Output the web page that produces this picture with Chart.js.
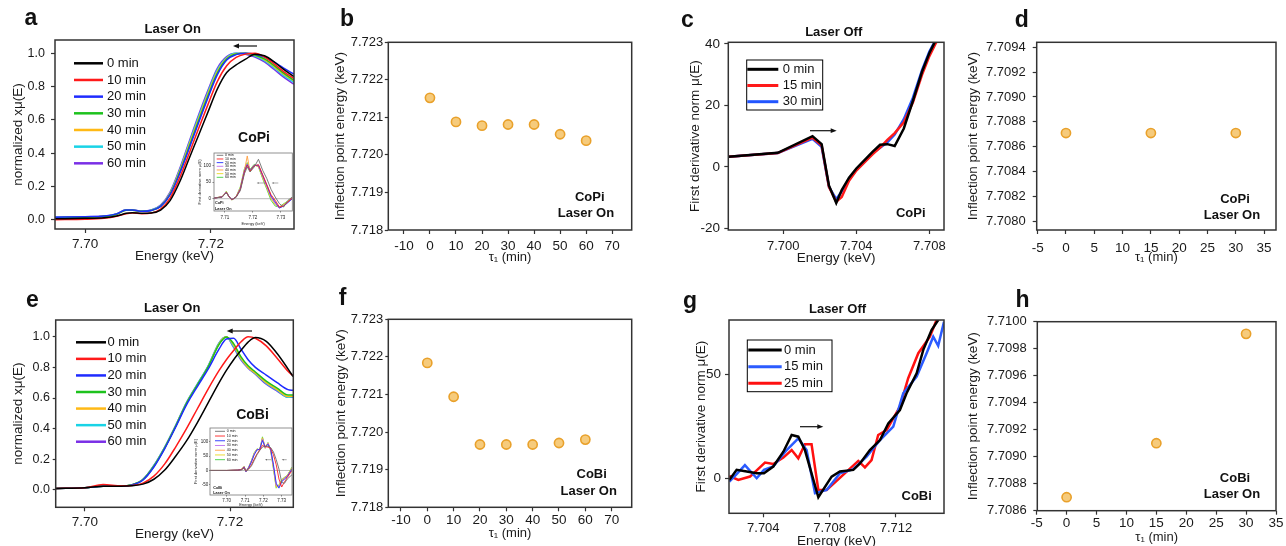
<!DOCTYPE html>
<html>
<head>
<meta charset="utf-8">
<script src="https://cdn.jsdelivr.net/npm/chart.js@4.4.1/dist/chart.umd.min.js"></script>
<style>
  html, body { margin: 0; padding: 0; background: #fff; }
  body { width: 1286px; height: 546px; position: relative; overflow: hidden; }
  canvas { position: absolute; }
</style>
</head>
<body>
<canvas id="chartA" width="320" height="273" style="left:0;top:0"></canvas>
<canvas id="chartB" width="320" height="273" style="left:320px;top:0"></canvas>
<canvas id="chartC" width="320" height="273" style="left:640px;top:0"></canvas>
<canvas id="chartD" width="326" height="273" style="left:960px;top:0"></canvas>
<canvas id="chartE" width="320" height="280" style="left:0;top:273px"></canvas>
<canvas id="chartF" width="320" height="280" style="left:320px;top:273px"></canvas>
<canvas id="chartG" width="320" height="280" style="left:640px;top:273px"></canvas>
<canvas id="chartH" width="326" height="280" style="left:960px;top:273px"></canvas>
<canvas id="insetA" width="98" height="80" style="left:196px;top:148px"></canvas>
<canvas id="insetE" width="108" height="86" style="left:186px;top:422px"></canvas>
<script>
const FONT = '"Liberation Sans", Arial, sans-serif';
Chart.defaults.font.family = FONT;
Chart.defaults.color = '#1a1a1a';

// ---------- data ----------
const TIME_LABELS = ['0 min', '10 min', '20 min', '30 min', '40 min', '50 min', '60 min'];
const TIME_COLORS = ['#000000', '#ff1a1a', '#1e2bff', '#1dc21d', '#ffb915', '#19d3e6', '#7a2fe6'];
const INSET_COLORS = ['#6e6e6e', '#ff2020', '#2030ff', '#c070f0', '#ff9e40', '#e8d820', '#40d040'];

// a: CoPi normalized XANES, laser on
const A_ENERGY = [7.6952, 7.7000, 7.7030, 7.7050, 7.7065, 7.7075, 7.7090, 7.7105, 7.7120, 7.7135, 7.7150, 7.7165,
  7.7180, 7.7195, 7.7210, 7.7225, 7.7240, 7.7255, 7.7270, 7.7285, 7.7300, 7.7315, 7.7332];
const A_0MIN = [0.005, 0.008, 0.012, 0.022, 0.038, 0.042, 0.038, 0.040, 0.058, 0.115, 0.225, 0.365, 0.505, 0.645, 0.785, 0.885, 0.930, 0.965, 0.995, 0.985, 0.950, 0.905, 0.860];
const A_10MIN = [0.000, 0.002, 0.008, 0.020, 0.036, 0.040, 0.036, 0.040, 0.064, 0.130, 0.250, 0.395, 0.545, 0.690, 0.830, 0.925, 0.975, 0.995, 1.000, 0.978, 0.938, 0.892, 0.848];
const A_20MIN = [0.015, 0.018, 0.022, 0.035, 0.058, 0.058, 0.050, 0.055, 0.080, 0.150, 0.275, 0.425, 0.580, 0.730, 0.870, 0.960, 0.992, 1.000, 0.995, 0.978, 0.948, 0.912, 0.875];
const A_30MIN = [0.012, 0.015, 0.020, 0.033, 0.056, 0.057, 0.050, 0.055, 0.080, 0.152, 0.282, 0.435, 0.592, 0.742, 0.880, 0.965, 0.996, 1.000, 0.990, 0.966, 0.928, 0.882, 0.838];
const A_40MIN = [0.012, 0.015, 0.020, 0.033, 0.057, 0.057, 0.050, 0.056, 0.082, 0.156, 0.290, 0.447, 0.604, 0.754, 0.890, 0.970, 0.998, 1.000, 0.988, 0.962, 0.922, 0.877, 0.834];
const A_50MIN = [0.014, 0.016, 0.021, 0.034, 0.058, 0.058, 0.051, 0.057, 0.085, 0.160, 0.296, 0.456, 0.615, 0.765, 0.900, 0.975, 1.000, 0.998, 0.984, 0.956, 0.914, 0.868, 0.826];
const A_60MIN = [0.015, 0.017, 0.022, 0.035, 0.060, 0.060, 0.052, 0.058, 0.088, 0.166, 0.304, 0.466, 0.626, 0.776, 0.910, 0.980, 1.000, 0.995, 0.978, 0.948, 0.904, 0.858, 0.814];
const A_XTICKS = [7.70, 7.72];
const A_YTICKS = [0, 0.2, 0.4, 0.6, 0.8, 1.0];

// a inset: first derivative
const IA_ENERGY = [7.7062, 7.7090, 7.7105, 7.7115, 7.7125, 7.7140, 7.7155, 7.7170, 7.7180, 7.7190, 7.7205, 7.7220, 7.7235, 7.7250, 7.7265, 7.7280, 7.7295, 7.7310, 7.7325, 7.7341];
const IA_0MIN = [2, 5, 18, 6, -2, 4, 24, 75, 95, 80, 95, 118, 85, 60, 28, 5, -15, -25, -5, 5];
const IA_10MIN = [2, 5, 19, 6, -3, 5, 27, 80, 100, 83, 98, 102, 72, 42, 12, -5, -25, -22, -10, 2];
const IA_20MIN = [2, 5, 19, 6, -3, 5, 28, 82, 102, 84, 100, 100, 70, 40, 8, -10, -28, -22, -12, 0];
const IA_30MIN = [2, 6, 20, 6, -3, 5, 30, 84, 104, 85, 100, 98, 68, 37, 5, -14, -28, -20, -10, 2];
const IA_40MIN = [2, 6, 20, 6, -3, 5, 30, 85, 128, 80, 100, 98, 66, 35, 3, -15, -27, -18, -10, 2];
const IA_50MIN = [2, 6, 21, 5, -4, 6, 33, 88, 105, 86, 101, 96, 63, 32, 0, -18, -26, -17, -8, 3];
const IA_60MIN = [2, 6, 22, 5, -4, 6, 35, 90, 108, 88, 103, 95, 60, 28, -5, -22, -25, -15, -8, 4];

// b: CoPi inflection point, laser on
const B_TIME = [0, 10, 20, 30, 40, 50, 60];
const B_ENERGY = [7.72152, 7.72088, 7.72078, 7.72081, 7.72081, 7.72055, 7.72038];
const B_XTICKS = [-10, 0, 10, 20, 30, 40, 50, 60, 70];
const B_YTICKS = [7.718, 7.719, 7.720, 7.721, 7.722, 7.723];

// c: CoPi first derivative, laser off
const C_LABELS = ['0 min', '15 min', '30 min'];
const C_ENERGY = [7.6970, 7.6997, 7.7016, 7.7021, 7.7025, 7.7029, 7.7032, 7.7036, 7.7040, 7.7045, 7.7049, 7.7053,
  7.7057, 7.7061, 7.7066, 7.7071, 7.7076, 7.7080, 7.7085];
const C_0MIN = [3.3, 4.6, 10.0, 7.4, -6.0, -11.7, -7.5, -3.5, -0.5, 2.5, 5.0, 7.2, 7.4, 6.8, 12.5, 21.5, 31, 37, 43];
const C_15MIN = [3.3, 4.5, 9.5, 7.0, -6.5, -11.3, -9.8, -4.5, -1.2, 1.8, 4.2, 6.3, 8.8, 11.0, 14.5, 21.0, 30, 36, 42];
const C_30MIN = [3.3, 4.5, 9.1, 6.5, -6.5, -10.5, -8.0, -4.0, -1.0, 2.0, 4.5, 6.2, 8.0, 10.5, 15.5, 22.5, 31.5, 37.5, 43];
const C_XTICKS = [7.700, 7.704, 7.708];
const C_YTICKS = [-20, 0, 20, 40];

// d: CoPi inflection point (laser off series)
const D_TIME = [0, 15, 30];
const D_ENERGY = [7.70871, 7.70871, 7.70871];
const D_XTICKS = [-5, 0, 5, 10, 15, 20, 25, 30, 35];
const D_YTICKS = [7.7080, 7.7082, 7.7084, 7.7086, 7.7088, 7.7090, 7.7092, 7.7094];

// e: CoBi normalized XANES, laser on
const E_ENERGY = [7.6960, 7.7000, 7.7025, 7.7050, 7.7065, 7.7080, 7.7095, 7.7110, 7.7125, 7.7140, 7.7155, 7.7170,
  7.7185, 7.7195, 7.7205, 7.7215, 7.7225, 7.7235, 7.7250, 7.7265, 7.7280, 7.7287];
const E_0MIN = [0.010, 0.015, 0.025, 0.025, 0.028, 0.038, 0.070, 0.130, 0.220, 0.320, 0.440, 0.570, 0.700, 0.780, 0.850, 0.910, 0.965, 0.995, 0.970, 0.890, 0.790, 0.740];
const E_10MIN = [0.010, 0.015, 0.035, 0.028, 0.030, 0.045, 0.090, 0.170, 0.280, 0.400, 0.530, 0.660, 0.780, 0.850, 0.910, 0.965, 1.000, 0.990, 0.940, 0.860, 0.775, 0.745];
const E_20MIN = [0.010, 0.015, 0.025, 0.025, 0.033, 0.065, 0.150, 0.270, 0.410, 0.555, 0.675, 0.790, 0.920, 0.985, 0.990, 0.920, 0.850, 0.800, 0.750, 0.700, 0.655, 0.650];
const E_30MIN = [0.010, 0.015, 0.025, 0.025, 0.034, 0.068, 0.155, 0.275, 0.415, 0.565, 0.685, 0.805, 0.950, 0.998, 0.955, 0.870, 0.810, 0.770, 0.710, 0.665, 0.620, 0.620];
const E_40MIN = [0.010, 0.015, 0.025, 0.025, 0.034, 0.068, 0.155, 0.275, 0.415, 0.565, 0.685, 0.805, 0.955, 0.999, 0.945, 0.860, 0.800, 0.762, 0.700, 0.655, 0.610, 0.612];
const E_50MIN = [0.010, 0.015, 0.025, 0.025, 0.035, 0.070, 0.160, 0.280, 0.420, 0.570, 0.690, 0.810, 0.960, 1.000, 0.935, 0.855, 0.798, 0.758, 0.695, 0.650, 0.605, 0.608];
const E_60MIN = [0.010, 0.015, 0.025, 0.025, 0.035, 0.070, 0.160, 0.280, 0.420, 0.570, 0.690, 0.810, 0.960, 1.000, 0.930, 0.850, 0.795, 0.755, 0.690, 0.645, 0.605, 0.605];

// e inset: first derivative
const IE_ENERGY = [7.6909, 7.7000, 7.7060, 7.7080, 7.7095, 7.7105, 7.7120, 7.7135, 7.7150, 7.7165, 7.7180, 7.7195,
  7.7210, 7.7225, 7.7240, 7.7255, 7.7270, 7.7285, 7.7300, 7.7315, 7.7330, 7.7356];
const IE_0MIN = [0, 0, 1, 2, 8, -1, 5, 16, 35, 55, 70, 82, 86, 85, 80, 65, 38, 5, -42, -45, -30, -15];
const IE_10MIN = [0, 0, 1, 3, 10, -2, 6, 20, 40, 58, 72, 88, 84, 82, 78, 55, 20, -30, -58, -40, -25, 0];
const IE_20MIN = [0, 0, 1, 3, 12, -4, 10, 30, 55, 72, 74, 105, 82, 92, 75, 20, -45, -62, -40, -30, -22, 5];
const IE_30MIN = [0, 0, 1, 4, 13, -4, 11, 33, 58, 74, 73, 110, 80, 95, 72, 14, -52, -58, -38, -28, -20, 6];
const IE_40MIN = [0, 0, 1, 4, 13, -4, 11, 33, 58, 74, 72, 112, 80, 96, 72, 12, -55, -55, -36, -26, -20, 8];
const IE_50MIN = [0, 0, 1, 4, 14, -5, 12, 34, 60, 75, 72, 115, 78, 97, 70, 8, -60, -52, -34, -25, -18, 10];
const IE_60MIN = [0, 0, 1, 4, 14, -5, 12, 35, 62, 76, 72, 118, 78, 98, 68, 5, -62, -50, -32, -24, -18, 12];

// f: CoBi inflection point, laser on
const F_TIME = [0, 10, 20, 30, 40, 50, 60];
const F_ENERGY = [7.72184, 7.72094, 7.71967, 7.71967, 7.71967, 7.71971, 7.71980];

// g: CoBi first derivative, laser off (each trace has its own energy steps)
const G_LABELS = ['0 min', '15 min', '25 min'];
const G_X_0MIN = [7.70195, 7.70239, 7.70300, 7.70360, 7.70404, 7.70460, 7.70521, 7.70571, 7.70611, 7.70651, 7.70732, 7.70812,
  7.70862, 7.70943, 7.70983, 7.71043, 7.71104, 7.71154, 7.71224, 7.71264, 7.71325, 7.71365, 7.71415, 7.71455];
const G_Y_0MIN = [-0.6, 4.2, 3.4, 2.6, 2.6, 5.8, 12.9, 20.9, 20.1, 13.7, -8.9, 1.0, 3.4, 4.2, 7.3, 13.7, 18.5, 26.5, 32.9, 40.9, 50.5, 61.7, 71.2, 76];
const G_X_15MIN = [7.70195, 7.70239, 7.70289, 7.70360, 7.70404, 7.70460, 7.70541, 7.70611, 7.70661, 7.70712, 7.70782, 7.70862,
  7.70943, 7.71023, 7.71104, 7.71184, 7.71244, 7.71325, 7.71385, 7.71425, 7.71455, 7.71490];
const G_Y_15MIN = [-1.4, 2.2, 6.5, 0.2, 4.2, 5.8, 13.7, 19.3, 13.7, -7.0, -5.4, 2.6, 4.5, 10.5, 18.5, 24.9, 40.9, 48.9, 60.1, 68, 63.6, 75.2];
const G_X_25MIN = [7.70195, 7.70249, 7.70320, 7.70410, 7.70460, 7.70521, 7.70571, 7.70611, 7.70651, 7.70691, 7.70732, 7.70782,
  7.70903, 7.70973, 7.71013, 7.71053, 7.71093, 7.71144, 7.71224, 7.71274, 7.71335, 7.71405, 7.71445, 7.71490];
const G_Y_25MIN = [1.3, -0.6, 1.0, 7.7, 7.0, 10.1, 13.7, 9.7, 16.5, 16.5, -5.4, -5.4, 3.4, 8.5, 5.4, 8.9, 20.9, 23.3, 34.5, 48.1, 60.1, 68, 76, 77];
const G_XTICKS = [7.704, 7.708, 7.712];
const G_YTICKS = [0, 50];

// h: CoBi inflection point
const H_TIME = [0, 15, 30];
const H_ENERGY = [7.70870, 7.70910, 7.70991];
const H_YTICKS = [7.7086, 7.7088, 7.7090, 7.7092, 7.7094, 7.7096, 7.7098, 7.7100];

// ---------- helpers ----------
const extrasPlugin = {
  id: 'extras',
  beforeDatasetsDraw(chart, args, o) {
    if (!o.zero) return;
    const ctx = chart.ctx, a = chart.chartArea;
    const y = chart.scales.y.getPixelForValue(0);
    ctx.save();
    ctx.strokeStyle = o.zero;
    ctx.lineWidth = 0.6;
    ctx.beginPath();
    ctx.moveTo(a.left, y);
    ctx.lineTo(a.right, y);
    ctx.stroke();
    ctx.restore();
  },
  afterDraw(chart, args, o) {
    const ctx = chart.ctx, a = chart.chartArea;
    ctx.save();
    ctx.strokeStyle = o.frameColor || '#333';
    ctx.lineWidth = o.frameWidth || 1.5;
    ctx.strokeRect(a.left, a.top, a.right - a.left, a.bottom - a.top);

    const lg = o.legend;
    if (lg) {
      if (lg.box) {
        ctx.strokeStyle = '#000';
        ctx.lineWidth = 1;
        ctx.strokeRect(lg.box[0], lg.box[1], lg.box[2], lg.box[3]);
      }
      chart.data.datasets.forEach((ds, i) => {
        const y = lg.y + i * lg.dy;
        ctx.strokeStyle = ds.borderColor;
        ctx.lineWidth = lg.lw;
        ctx.beginPath();
        ctx.moveTo(lg.x, y);
        ctx.lineTo(lg.x + lg.len, y);
        ctx.stroke();
        ctx.fillStyle = '#111';
        ctx.font = lg.font;
        ctx.textAlign = 'left';
        ctx.textBaseline = 'middle';
        ctx.fillText(ds.label, lg.x + lg.len + lg.gap, y);
      });
    }

    (o.arrows || []).forEach(ar => {
      const dir = Math.sign(ar.x2 - ar.x1);
      ctx.strokeStyle = ar.color || '#111';
      ctx.fillStyle = ar.color || '#111';
      ctx.lineWidth = ar.lw || 1.2;
      ctx.beginPath();
      ctx.moveTo(ar.x1, ar.y);
      ctx.lineTo(ar.x2 - dir * ar.head * 0.8, ar.y);
      ctx.stroke();
      ctx.beginPath();
      ctx.moveTo(ar.x2, ar.y);
      ctx.lineTo(ar.x2 - dir * ar.head, ar.y - ar.head * 0.4);
      ctx.lineTo(ar.x2 - dir * ar.head, ar.y + ar.head * 0.4);
      ctx.closePath();
      ctx.fill();
    });

    (o.texts || []).forEach(t => {
      ctx.fillStyle = '#111';
      ctx.font = t.font;
      ctx.textAlign = t.align || 'center';
      ctx.textBaseline = 'middle';
      ctx.fillText(t.t, t.x, t.y);
    });
    ctx.restore();
  }
};

function makeScale(position, a, size) {
  const horizontal = position === 'bottom';
  return {
    type: 'linear',
    position: position,
    bounds: 'data',
    min: a.min,
    max: a.max,
    afterFit: s => { if (horizontal) s.height = size; else s.width = size; },
    afterBuildTicks: s => { s.ticks = a.ticks.map(v => ({ value: v })); },
    grid: { display: true, drawOnChartArea: false, drawTicks: true, tickLength: a.tickLen, tickColor: a.tickColor || '#333', tickWidth: a.tickWidth || 1.2 },
    border: { display: false },
    ticks: { autoSkip: false, maxRotation: 0, padding: a.pad, color: '#1a1a1a', font: { size: a.size }, callback: v => Number(v).toFixed(a.digits) },
    title: {
      display: true, text: a.title, color: '#1a1a1a',
      font: { size: a.titleSize || 13.5, lineHeight: 1.2 },
      padding: horizontal ? { top: 0, bottom: a.titlePad } : { top: a.titlePad, bottom: 0 }
    }
  };
}

function makeChart(id, geo, datasets, xAxis, yAxis, extras) {
  const canvas = document.getElementById(id);
  return new Chart(canvas, {
    type: 'line',
    data: { datasets: datasets },
    options: {
      responsive: false,
      animation: false,
      devicePixelRatio: 1,
      layout: { padding: { left: 0, top: geo.T, right: canvas.width - geo.R, bottom: 0 } },
      plugins: { legend: { display: false }, tooltip: { enabled: false }, extras: extras },
      scales: {
        x: makeScale('bottom', xAxis, canvas.height - geo.B),
        y: makeScale('left', yAxis, geo.L)
      }
    },
    plugins: [extrasPlugin]
  });
}

function lineSet(label, xs, ys, color, width, smooth) {
  return {
    label: label,
    data: xs.map((x, i) => ({ x: x, y: ys[i] })),
    borderColor: color,
    borderWidth: width,
    pointRadius: 0,
    tension: smooth ? 0.4 : 0,
    cubicInterpolationMode: smooth ? 'monotone' : 'default',
    fill: false
  };
}

function dotSet(xs, ys) {
  return {
    data: xs.map((x, i) => ({ x: x, y: ys[i] })),
    showLine: false,
    pointRadius: 4.6,
    pointBackgroundColor: '#f6cb7c',
    pointBorderColor: '#e9a12b',
    pointBorderWidth: 1.6
  };
}

const bold = size => 'bold ' + size + 'px ' + FONT;
const plain = size => size + 'px ' + FONT;
const YTITLE = 'Inflection point energy (keV)';
const DTITLE = 'First derivative norm μ(E)';

// ---------- panel a ----------
const aSeries = [A_0MIN, A_10MIN, A_20MIN, A_30MIN, A_40MIN, A_50MIN, A_60MIN];
makeChart('chartA', { L: 55, R: 294, T: 40, B: 229 },
  aSeries.map((ys, i) => lineSet(TIME_LABELS[i], A_ENERGY, ys, TIME_COLORS[i], 1.5, true)),
  { min: 7.6952, max: 7.7332, ticks: A_XTICKS, digits: 2, size: 13.5, tickLen: 4, pad: 3.5, title: 'Energy (keV)', titlePad: 8.2 },
  { min: -0.056, max: 1.08, ticks: A_YTICKS, digits: 1, size: 12.5, tickLen: 4, pad: 6, title: 'normalized xμ(E)', titlePad: 10.2 },
  {
    legend: { x: 74, y: 63.3, dy: 16.67, len: 29, gap: 4, lw: 2.5, font: plain(13) },
    arrows: [{ x1: 257, x2: 233, y: 46, head: 6 }],
    texts: [
      { t: 'a', x: 30.8, y: 18.3, font: bold(23) },
      { t: 'Laser On', x: 172.7, y: 29.3, font: bold(13) },
      { t: 'CoPi', x: 254, y: 138, font: bold(14) }
    ]
  });

const iaSeries = [IA_0MIN, IA_10MIN, IA_20MIN, IA_30MIN, IA_40MIN, IA_50MIN, IA_60MIN];
makeChart('insetA', { L: 18, R: 96.3, T: 5, B: 63 },
  iaSeries.map((ys, i) => lineSet(TIME_LABELS[i], IA_ENERGY, ys, INSET_COLORS[i], 0.9, false)),
  { min: 7.7061, max: 7.7341, ticks: [7.71, 7.72, 7.73], digits: 2, size: 4.5, tickLen: 1.5, tickWidth: 0.6, pad: 2.8, title: 'Energy (keV)', titleSize: 4, titlePad: 1.6 },
  { min: -36.8, max: 136.8, ticks: [0, 50, 100], digits: 0, size: 4.5, tickLen: 1.5, tickWidth: 0.6, pad: 1.5, title: DTITLE, titleSize: 4, titlePad: 1.6 },
  {
    zero: '#888', frameColor: '#777', frameWidth: 0.8,
    legend: { x: 20.7, y: 7.3, dy: 3.67, len: 6.6, gap: 1.7, lw: 0.9, font: plain(3.6) },
    arrows: [{ x1: 69, x2: 60.7, y: 35, head: 2, lw: 0.5, color: '#555' }, { x1: 82.3, x2: 75.7, y: 35, head: 2, lw: 0.5, color: '#555' }],
    texts: [
      { t: 'CoPi', x: 19, y: 55, align: 'left', font: bold(3.8) },
      { t: 'Laser On', x: 19, y: 60.7, align: 'left', font: bold(3.8) }
    ]
  });

// ---------- panel b ----------
makeChart('chartB', { L: 68.3, R: 311.7, T: 42.3, B: 230 },
  [dotSet(B_TIME, B_ENERGY)],
  { min: -16, max: 77.5, ticks: B_XTICKS, digits: 0, size: 13.5, tickLen: 4, pad: 4.6, title: 'τ₁ (min)', titleSize: 13, titlePad: 7.9 },
  { min: 7.718, max: 7.723, ticks: B_YTICKS, digits: 3, size: 13, tickLen: 3.5, pad: 1.5, title: YTITLE, titlePad: 11.9 },
  {
    texts: [
      { t: 'b', x: 27, y: 20, font: bold(23) },
      { t: 'CoPi', x: 269.7, y: 197, font: bold(13) },
      { t: 'Laser On', x: 266, y: 213.3, font: bold(13) }
    ]
  });

// ---------- panel c ----------
const cSeries = [C_0MIN, C_15MIN, C_30MIN];
const cColors = ['#000000', '#ff1a1a', '#2255ff'];
makeChart('chartC', { L: 88.3, R: 304, T: 42.3, B: 230 },
  cSeries.map((ys, i) => lineSet(C_LABELS[i], C_ENERGY, ys, cColors[i], 2.5, false)),
  { min: 7.69699, max: 7.7088, ticks: C_XTICKS, digits: 3, size: 13, tickLen: 4, pad: 4.9, title: 'Energy (keV)', titlePad: 6.6 },
  { min: -20.5, max: 40.5, ticks: C_YTICKS, digits: 0, size: 13.5, tickLen: 4, pad: 4.3, title: DTITLE, titlePad: 46.9 },
  {
    legend: { x: 107.3, y: 69.3, dy: 16.2, len: 31, gap: 4.4, lw: 3, font: plain(13), box: [106.7, 60, 76, 50] },
    arrows: [{ x1: 170, x2: 196.7, y: 130.7, head: 6 }],
    texts: [
      { t: 'c', x: 47.5, y: 20.8, font: bold(23) },
      { t: 'Laser Off', x: 193.7, y: 32.3, font: bold(13) },
      { t: 'CoPi', x: 270.7, y: 213.3, font: bold(13) }
    ]
  });

// ---------- panel d ----------
makeChart('chartD', { L: 76.7, R: 316, T: 42.3, B: 230 },
  [dotSet(D_TIME, D_ENERGY)],
  { min: -5.17, max: 37.1, ticks: D_XTICKS, digits: 0, size: 13.5, tickLen: 4, pad: 6.2, title: 'τ₁ (min)', titleSize: 13, titlePad: 8.2 },
  { min: 7.70793, max: 7.70944, ticks: D_YTICKS, digits: 4, size: 13, tickLen: 4, pad: 7, title: YTITLE, titlePad: 5.2 },
  {
    texts: [
      { t: 'd', x: 61.7, y: 20.8, font: bold(23) },
      { t: 'CoPi', x: 275, y: 199, font: bold(13) },
      { t: 'Laser On', x: 272, y: 215, font: bold(13) }
    ]
  });

// ---------- panel e ----------
const eSeries = [E_0MIN, E_10MIN, E_20MIN, E_30MIN, E_40MIN, E_50MIN, E_60MIN];
makeChart('chartE', { L: 55.7, R: 293.3, T: 47, B: 234.3 },
  eSeries.map((ys, i) => lineSet(TIME_LABELS[i], E_ENERGY, ys, TIME_COLORS[i], 1.5, true)),
  { min: 7.69596, max: 7.72873, ticks: A_XTICKS, digits: 2, size: 13.5, tickLen: 4, pad: 2.9, title: 'Energy (keV)', titlePad: 10.9 },
  { min: -0.113, max: 1.109, ticks: A_YTICKS, digits: 1, size: 12.5, tickLen: 3, pad: 2.7, title: 'normalized xμ(E)', titlePad: 10.2 },
  {
    legend: { x: 76, y: 69.3, dy: 16.57, len: 30, gap: 1.5, lw: 2.5, font: plain(13) },
    arrows: [{ x1: 252, x2: 226.7, y: 58, head: 6 }],
    texts: [
      { t: 'e', x: 32.5, y: 27.8, font: bold(23) },
      { t: 'Laser On', x: 172.2, y: 35.3, font: bold(13) },
      { t: 'CoBi', x: 252.5, y: 142.3, font: bold(14) }
    ]
  });

const ieSeries = [IE_0MIN, IE_10MIN, IE_20MIN, IE_30MIN, IE_40MIN, IE_50MIN, IE_60MIN];
makeChart('insetE', { L: 24, R: 106, T: 6, B: 73 },
  ieSeries.map((ys, i) => lineSet(TIME_LABELS[i], IE_ENERGY, ys, INSET_COLORS[i], 0.9, false)),
  { min: 7.6909, max: 7.7356, ticks: [7.70, 7.71, 7.72, 7.73], digits: 2, size: 4.5, tickLen: 1.5, tickWidth: 0.6, pad: 1.8, title: 'Energy (keV)', titleSize: 4, titlePad: 1.1 },
  { min: -86, max: 149, ticks: [-50, 0, 50, 100], digits: 0, size: 4.5, tickLen: 1, tickWidth: 0.6, pad: 0.7, title: DTITLE, titleSize: 4, titlePad: 7.6 },
  {
    zero: '#888', frameColor: '#777', frameWidth: 0.8,
    legend: { x: 29, y: 9.3, dy: 4.73, len: 10, gap: 1.7, lw: 0.9, font: plain(3.6) },
    arrows: [{ x1: 85, x2: 79, y: 37.7, head: 2, lw: 0.5, color: '#555' }, { x1: 100.7, x2: 95.7, y: 37.7, head: 2, lw: 0.5, color: '#555' }],
    texts: [
      { t: 'CoBi', x: 27.3, y: 66, align: 'left', font: bold(3.8) },
      { t: 'Laser On', x: 27.3, y: 71, align: 'left', font: bold(3.8) }
    ]
  });

// ---------- panel f ----------
makeChart('chartF', { L: 68.3, R: 311.7, T: 46.3, B: 234.3 },
  [dotSet(F_TIME, F_ENERGY)],
  { min: -14.8, max: 77.6, ticks: B_XTICKS, digits: 0, size: 13.5, tickLen: 4, pad: 0.6, title: 'τ₁ (min)', titleSize: 13, titlePad: 11.6 },
  { min: 7.718, max: 7.723, ticks: B_YTICKS, digits: 3, size: 13, tickLen: 3, pad: 2, title: YTITLE, titlePad: 13.6 },
  {
    texts: [
      { t: 'f', x: 22.5, y: 26, font: bold(23) },
      { t: 'CoBi', x: 271.7, y: 201, font: bold(13) },
      { t: 'Laser On', x: 268.7, y: 218.7, font: bold(13) }
    ]
  });

// ---------- panel g ----------
makeChart('chartG', { L: 89, R: 304, T: 47, B: 240.3 },
  [
    lineSet(G_LABELS[0], G_X_0MIN, G_Y_0MIN, '#000000', 2.5, false),
    lineSet(G_LABELS[1], G_X_15MIN, G_Y_15MIN, '#2b5bff', 2.5, false),
    lineSet(G_LABELS[2], G_X_25MIN, G_Y_25MIN, '#ff1010', 2.5, false)
  ],
  { min: 7.70193, max: 7.7149, ticks: G_XTICKS, digits: 3, size: 13, tickLen: 4, pad: 3.2, title: 'Energy (keV)', titlePad: 3.2 },
  { min: -16.6, max: 76, ticks: G_YTICKS, digits: 0, size: 13.5, tickLen: 4, pad: 4, title: DTITLE, titlePad: 53.6 },
  {
    legend: { x: 108.3, y: 77, dy: 16.67, len: 33.4, gap: 2.3, lw: 3, font: plain(13), box: [107.3, 67, 84.7, 51.7] },
    arrows: [{ x1: 160, x2: 183.3, y: 153.7, head: 6 }],
    texts: [
      { t: 'g', x: 50, y: 28.7, font: bold(23) },
      { t: 'Laser Off', x: 197.5, y: 36.3, font: bold(13) },
      { t: 'CoBi', x: 276.7, y: 223.7, font: bold(13) }
    ]
  });

// ---------- panel h ----------
makeChart('chartH', { L: 77.3, R: 316, T: 48.7, B: 237.7 },
  [dotSet(H_TIME, H_ENERGY)],
  { min: -4.9, max: 35, ticks: D_XTICKS, digits: 0, size: 13.5, tickLen: 4, pad: 0.8, title: 'τ₁ (min)', titleSize: 13, titlePad: 8.2 },
  { min: 7.7086, max: 7.7100, ticks: H_YTICKS, digits: 4, size: 13, tickLen: 4, pad: 6.6, title: YTITLE, titlePad: 5.2 },
  {
    texts: [
      { t: 'h', x: 62.5, y: 28, font: bold(23) },
      { t: 'CoBi', x: 275, y: 205.3, font: bold(13) },
      { t: 'Laser On', x: 272, y: 221, font: bold(13) }
    ]
  });
</script>
</body>
</html>
